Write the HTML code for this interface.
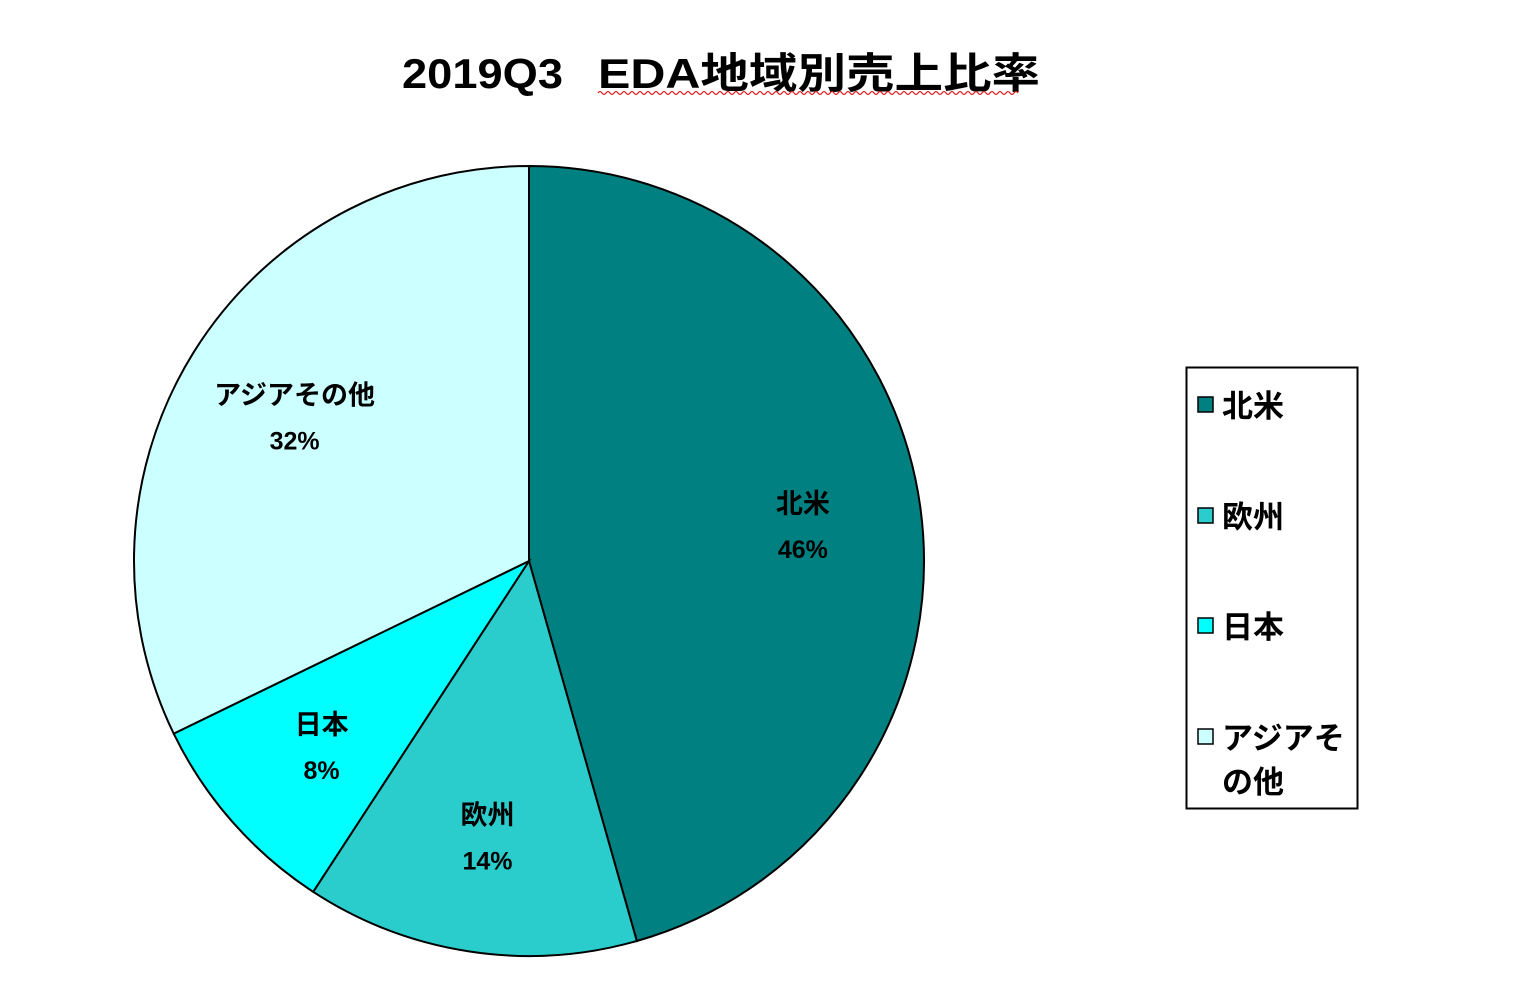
<!DOCTYPE html>
<html><head><meta charset="utf-8"><style>
body{margin:0;background:#fff;width:1536px;height:1000px;overflow:hidden}
svg{display:block}
text{font-family:"Liberation Sans","Noto Sans CJK JP",sans-serif;font-weight:bold;fill:#000}
</style></head><body>
<svg id="chart" width="1536" height="1000">
<text x="402" y="88" font-size="42" textLength="161" lengthAdjust="spacingAndGlyphs">2019Q3</text>
<text x="598" y="88" font-size="42" textLength="442" lengthAdjust="spacingAndGlyphs">EDA地域別売上比率</text>
<path d="M598 93 q2 -3 4 0 q2 3 4 0 q2 -3 4 0 q2 3 4 0 q2 -3 4 0 q2 3 4 0 q2 -3 4 0 q2 3 4 0 q2 -3 4 0 q2 3 4 0 q2 -3 4 0 q2 3 4 0 q2 -3 4 0 q2 3 4 0 q2 -3 4 0 q2 3 4 0 q2 -3 4 0 q2 3 4 0 q2 -3 4 0 q2 3 4 0 q2 -3 4 0 q2 3 4 0 q2 -3 4 0 q2 3 4 0 q2 -3 4 0 q2 3 4 0 q2 -3 4 0 q2 3 4 0 q2 -3 4 0 q2 3 4 0 q2 -3 4 0 q2 3 4 0 q2 -3 4 0 q2 3 4 0 q2 -3 4 0 q2 3 4 0 q2 -3 4 0 q2 3 4 0 q2 -3 4 0 q2 3 4 0 q2 -3 4 0 q2 3 4 0 q2 -3 4 0 q2 3 4 0 q2 -3 4 0 q2 3 4 0 q2 -3 4 0 q2 3 4 0 q2 -3 4 0 q2 3 4 0 q2 -3 4 0 q2 3 4 0 q2 -3 4 0 q2 3 4 0 q2 -3 4 0 q2 3 4 0 q2 -3 4 0 q2 3 4 0 q2 -3 4 0 q2 3 4 0 q2 -3 4 0 q2 3 4 0 q2 -3 4 0 q2 3 4 0 q2 -3 4 0 q2 3 4 0 q2 -3 4 0 q2 3 4 0 q2 -3 4 0 q2 3 4 0 q2 -3 4 0 q2 3 4 0 q2 -3 4 0 q2 3 4 0 q2 -3 4 0 q2 3 4 0 q2 -3 4 0 q2 3 4 0 q2 -3 4 0 q2 3 4 0 q2 -3 4 0 q2 3 4 0 q2 -3 4 0 q2 3 4 0 q2 -3 4 0 q2 3 4 0 q2 -3 4 0 q2 3 4 0 q2 -3 4 0 q2 3 4 0 q2 -3 4 0 q2 3 4 0 q2 -3 4 0 q2 3 4 0 q2 -3 4 0 q2 3 4 0 q2 -3 4 0 q2 3 4 0 q2 -3 4 0 q2 3 4 0 q2 -3 4 0 q2 3 4 0 q2 -3 4 0 q2 3 4 0 q2 -3 4 0" fill="none" stroke="#e02020" stroke-width="1.2"/>
<g id="slices"></g>
<g id="labels"></g>
<rect x="1186.5" y="367.5" width="171" height="441" fill="#fff" stroke="#000" stroke-width="2"/>
<g id="legend"></g>
</svg>
<script>
const categories = ["北米","欧州","日本","アジアその他"];
const values = [45.6, 13.6, 8.6, 32.2];
const pctLabels = ["46%","14%","8%","32%"];
const colors = ["#008080","#2ACCCC","#00FFFF","#CCFFFF"];
const NS="http://www.w3.org/2000/svg";
const cx=529, cy=561, r=395, lr=0.86;
const total=values.reduce((a,b)=>a+b,0);
const sl=document.getElementById('slices'), lb=document.getElementById('labels'), lg=document.getElementById('legend');
function pt(a,rr){return [cx+rr*Math.sin(a), cy-rr*Math.cos(a)];}
let acc=0;
values.forEach((v,i)=>{
  const a0=acc/total*2*Math.PI; acc+=v; const a1=acc/total*2*Math.PI;
  const p0=pt(a0,r), p1=pt(a1,r);
  const p=document.createElementNS(NS,'path');
  p.setAttribute('d',`M${cx},${cy} L${p0[0]},${p0[1]} A${r},${r} 0 ${a1-a0>Math.PI?1:0} 1 ${p1[0]},${p1[1]} Z`);
  p.setAttribute('fill',colors[i]); p.setAttribute('stroke','#000'); p.setAttribute('stroke-width','2');
  
  
  sl.appendChild(p);
  const m=(a0+a1)/2, c=pt(m,r*0.7);
  const t=document.createElementNS(NS,'text');
  t.setAttribute('x',c[0]); t.setAttribute('y',c[1]-10); t.setAttribute('text-anchor','middle'); t.setAttribute('font-size','27');
  t.textContent=categories[i];
  
  
  lb.appendChild(t);
  const t2=document.createElementNS(NS,'text');
  t2.setAttribute('x',c[0]); t2.setAttribute('y',c[1]+35); t2.setAttribute('text-anchor','middle'); t2.setAttribute('font-size','25');
  t2.textContent=pctLabels[i];
  
  
  lb.appendChild(t2);
});
const ly=[405,516,626,737];
categories.forEach((c,i)=>{
  const s=document.createElementNS(NS,'rect');
  s.setAttribute('x',1198); s.setAttribute('y',ly[i]-8); s.setAttribute('width',15); s.setAttribute('height',15);
  s.setAttribute('fill',colors[i]); s.setAttribute('stroke','#000'); s.setAttribute('stroke-width','1.5');
  
  
  lg.appendChild(s);
  const lines = c.length>4 ? [c.slice(0,4), c.slice(4)] : [c];
  lines.forEach((ln,j)=>{
    const t=document.createElementNS(NS,'text');
    t.setAttribute('x',1222); t.setAttribute('y',ly[i]+12+j*44); t.setAttribute('font-size','31');
    t.textContent=ln;
    
    
    lg.appendChild(t);
  });
});
</script>
</body></html>
